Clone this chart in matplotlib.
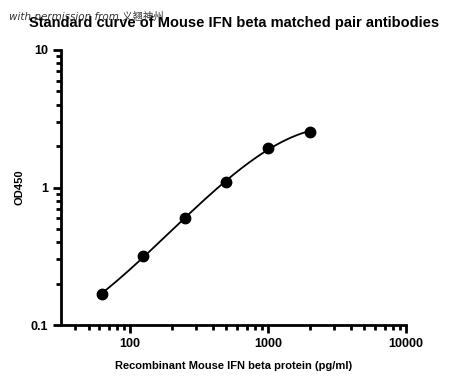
import numpy as np
import matplotlib
matplotlib.use("Agg")
import matplotlib.pyplot as plt
from matplotlib.ticker import LogLocator, NullFormatter, FixedLocator, FixedFormatter

# data
conc = [62.5, 125, 250, 500, 1000, 2000]
od450 = [0.169, 0.318, 0.60, 1.09, 1.95, 2.55]

x_ticks = [100, 1000, 10000]
x_tick_labels = ["100", "1000", "10000"]
y_ticks = [0.1, 1, 10]
y_tick_labels = ["0.1", "1", "10"]

plt.rcParams['font.family'] = ['Liberation Sans', 'DejaVu Sans']

fig = plt.figure(figsize=(4.5, 3.84), dpi=100)
ax = fig.add_axes([0.1356, 0.1536, 0.7666, 0.7162])

# smooth fitted curve in log-log space
lx = np.log10(conc)
ly = np.log10(od450)
coef = np.polyfit(lx, ly, 3)
xs = np.linspace(lx[0], lx[-1], 200)
ax.plot(10 ** xs, 10 ** np.polyval(coef, xs), color='black', lw=1.3, zorder=2)
ax.plot(conc, od450, 'o', color='black', ms=7.5, zorder=3)

ax.set_xscale('log')
ax.set_yscale('log')
ax.set_xlim(31.6, 10000)
ax.set_ylim(0.1, 10)

ax.xaxis.set_major_locator(FixedLocator(x_ticks))
ax.xaxis.set_major_formatter(FixedFormatter(x_tick_labels))
ax.yaxis.set_major_locator(FixedLocator(y_ticks))
ax.yaxis.set_major_formatter(FixedFormatter(y_tick_labels))
ax.xaxis.set_minor_locator(LogLocator(base=10, subs=np.arange(2, 10)))
ax.yaxis.set_minor_locator(LogLocator(base=10, subs=np.arange(2, 10)))
ax.xaxis.set_minor_formatter(NullFormatter())
ax.yaxis.set_minor_formatter(NullFormatter())

for s in ['top', 'right']:
    ax.spines[s].set_visible(False)
for s in ['left', 'bottom']:
    ax.spines[s].set_linewidth(2)

ax.tick_params(which='major', length=6, width=2, labelsize=9, direction='out')
ax.tick_params(which='minor', length=3.5, width=2, direction='out')
for lab in ax.get_xticklabels() + ax.get_yticklabels():
    lab.set_fontweight('bold')

ax.set_xlabel('Recombinant Mouse IFN beta protein (pg/ml)', fontsize=8, fontweight='bold', labelpad=8)
ax.set_ylabel('OD450', fontsize=8, fontweight='bold', labelpad=4)

fig.text(0.52, 0.94, 'Standard curve of Mouse IFN beta matched pair antibodies',
         ha='center', va='center', fontsize=10.5, fontweight='bold')
fig.text(0.02, 0.958, 'with permission from 义翘神州', ha='left', va='center',
         fontsize=7.5, style='italic', color='#333333',
         family=['DejaVu Sans', 'Noto Sans CJK SC'])

fig.savefig('out.png', dpi=100)
